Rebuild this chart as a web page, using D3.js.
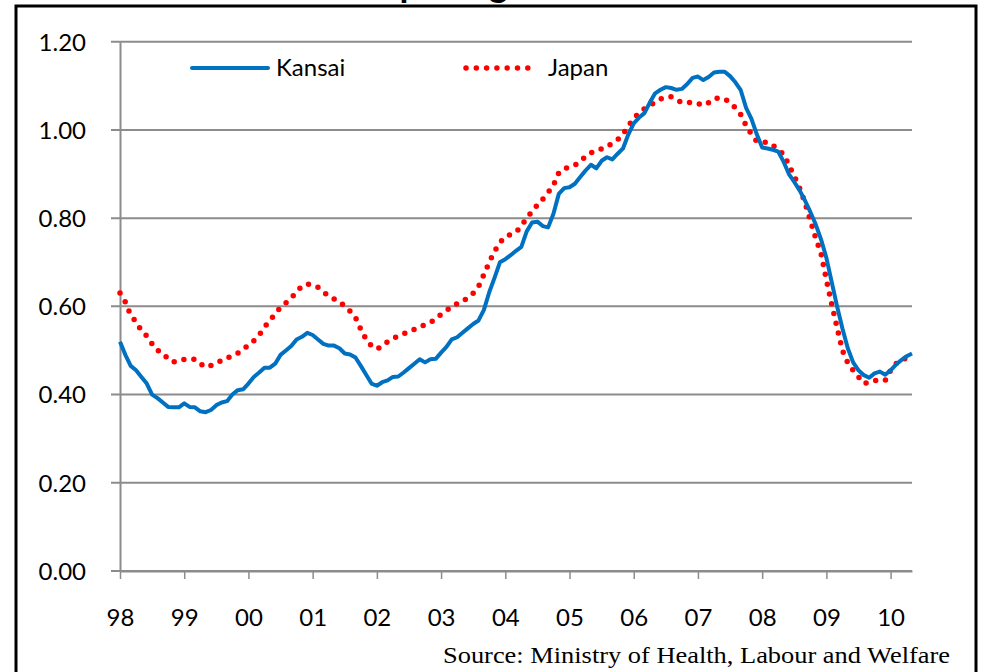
<!DOCTYPE html>
<meta charset="utf-8" />
<html>
<head>
<title>Kansai vs Japan</title>
<script src="https://cdn.jsdelivr.net/npm/d3@7/dist/d3.min.js"></script>
<style>
  body { margin: 0; background: #fff; }
  text { font-family: Lato, "Open Sans", sans-serif; fill: #000; }
</style>
</head>
<body>
<div id="viz"></div>
<script>

// monthly ratio, Jan 1998 .. May 2010
var kansai = [
  0.52, 0.49, 0.465, 0.455, 0.44, 0.425, 0.40, 0.392, 0.382, 0.372, 0.371, 0.371,
  0.38, 0.372, 0.371, 0.362, 0.36, 0.365, 0.376, 0.382, 0.385, 0.40, 0.41, 0.412,
  0.425, 0.44, 0.45, 0.461, 0.461, 0.47, 0.49, 0.50, 0.51, 0.525, 0.531, 0.54,
  0.535, 0.525, 0.515, 0.511, 0.511, 0.505, 0.493, 0.491, 0.484, 0.465, 0.445, 0.425,
  0.42, 0.428, 0.432, 0.44, 0.441, 0.45, 0.46, 0.47, 0.48, 0.473, 0.48, 0.481,
  0.495, 0.508, 0.525, 0.53, 0.54, 0.55, 0.56, 0.568, 0.592, 0.632, 0.665, 0.70,
  0.707, 0.716, 0.726, 0.735, 0.77, 0.79, 0.792, 0.782, 0.779, 0.81, 0.855, 0.868,
  0.87, 0.878, 0.893, 0.908, 0.921, 0.913, 0.93, 0.938, 0.933, 0.946, 0.958, 0.99,
  1.015, 1.028, 1.038, 1.062, 1.083, 1.091, 1.097, 1.095, 1.091, 1.093, 1.104, 1.118,
  1.121, 1.113, 1.12, 1.13, 1.132, 1.132, 1.122, 1.108, 1.09, 1.05, 1.025, 0.99,
  0.96, 0.958, 0.955, 0.951, 0.928, 0.90, 0.882, 0.863, 0.84, 0.814, 0.786, 0.752,
  0.71, 0.655, 0.60, 0.55, 0.505, 0.473, 0.455, 0.444, 0.438, 0.448, 0.452, 0.445,
  0.455, 0.468, 0.478, 0.487, 0.493
];

var japan = [
  0.63, 0.61, 0.58, 0.565, 0.545, 0.533, 0.515, 0.50, 0.495, 0.48, 0.474, 0.476,
  0.48, 0.48, 0.48, 0.47, 0.462, 0.466, 0.47, 0.478, 0.483, 0.488, 0.494, 0.503,
  0.512, 0.522, 0.535, 0.553, 0.568, 0.583, 0.598, 0.608, 0.618, 0.634, 0.645, 0.651,
  0.648, 0.643, 0.633, 0.623, 0.617, 0.611, 0.60, 0.589, 0.575, 0.548, 0.525, 0.51,
  0.503, 0.51, 0.52, 0.527, 0.533, 0.538, 0.542, 0.548, 0.554, 0.558, 0.563, 0.572,
  0.582, 0.59, 0.60, 0.606, 0.611, 0.62, 0.63, 0.645, 0.672, 0.70, 0.725, 0.745,
  0.758, 0.763, 0.768, 0.782, 0.80, 0.815, 0.83, 0.843, 0.858, 0.875, 0.903, 0.912,
  0.916, 0.92, 0.928, 0.94, 0.948, 0.953, 0.957, 0.962, 0.97, 0.978, 0.99, 1.01,
  1.025, 1.04, 1.048, 1.055, 1.063, 1.07, 1.074, 1.075, 1.068, 1.062, 1.062, 1.063,
  1.06, 1.056, 1.062, 1.071, 1.072, 1.07, 1.062, 1.05, 1.035, 1.01, 0.99, 0.974,
  0.972, 0.972, 0.965, 0.955, 0.945, 0.92, 0.895, 0.868, 0.835, 0.795, 0.755, 0.72,
  0.66, 0.605, 0.552, 0.50, 0.472, 0.455, 0.44, 0.425, 0.428, 0.432, 0.432, 0.432,
  0.455, 0.47, 0.48, 0.482, 0.483
];

var years = ["98", "99", "00", "01", "02", "03", "04", "05", "06", "07", "08", "09", "10"];
var yTicks = [0, 0.2, 0.4, 0.6, 0.8, 1.0, 1.2];

var width = 987,
    height = 672;

var svg = d3.select("#viz").append("svg")
    .attr("width", width)
    .attr("height", height);

var x = d3.scaleLinear().domain([0, kansai.length - 1]).range([120, 912]);
var y = d3.scaleLinear().domain([0, 1.2]).range([571, 41.7]);

// title (only its bottom edge peeks above the frame)
svg.append("text")
  .attr("x", 306)
  .attr("y", -3)
  .style("font-size", "36px")
  .style("font-weight", "bold")
  .text("Job Openings Ratio");

// gridlines
svg.append("g").selectAll("line")
  .data(yTicks)
  .enter().append("line")
  .attr("x1", 111)
  .attr("x2", 912)
  .attr("y1", function(d) { return y(d); })
  .attr("y2", function(d) { return y(d); })
  .style("stroke", "#8c8c8c")
  .style("stroke-width", 2);

// y axis
var yAxis = svg.append("g")
  .attr("transform", "translate(120,0)")
  .call(d3.axisLeft(y).tickValues(yTicks).tickSize(0).tickPadding(34)
    .tickFormat(d3.format(".2f")));
yAxis.select(".domain").style("stroke", "#8c8c8c").style("stroke-width", 2);
yAxis.selectAll("text").style("font-size", "24px").attr("dy", "0.35em");

// x axis
var xAxis = svg.append("g")
  .attr("transform", "translate(0," + y(0) + ")")
  .call(d3.axisBottom(x).tickValues(d3.range(0, 145, 12)).tickSizeInner(8).tickSizeOuter(0)
    .tickPadding(30).tickFormat(function(d, i) { return years[i]; }));
xAxis.select(".domain").style("stroke", "#8c8c8c").style("stroke-width", 2);
xAxis.selectAll(".tick line").style("stroke", "#8c8c8c").style("stroke-width", 1.5);
xAxis.selectAll("text").style("font-size", "24px");

var line = d3.line()
  .x(function(d, i) { return x(i); })
  .y(function(d) { return y(d); });

svg.append("path")
  .datum(japan)
  .attr("d", line)
  .style("fill", "none")
  .style("stroke", "#ff0000")
  .style("stroke-width", 5.5)
  .style("stroke-linecap", "round")
  .style("stroke-dasharray", "0 10");

svg.append("path")
  .datum(kansai)
  .attr("d", line)
  .style("fill", "none")
  .style("stroke", "#0070c0")
  .style("stroke-width", 4)
  .style("stroke-linejoin", "round");

// legend
var legend = svg.append("g");
legend.append("line")
  .attr("x1", 192).attr("x2", 268).attr("y1", 68).attr("y2", 68)
  .style("stroke", "#0070c0").style("stroke-width", 4).style("stroke-linecap", "round");
legend.append("text").attr("x", 276).attr("y", 76).style("font-size", "24px").text("Kansai");
legend.append("line")
  .attr("x1", 466).attr("x2", 538).attr("y1", 68).attr("y2", 68)
  .style("stroke", "#ff0000").style("stroke-width", 5.5).style("stroke-linecap", "round")
  .style("stroke-dasharray", "0 10.3");
legend.append("text").attr("x", 548).attr("y", 76).style("font-size", "24px").text("Japan");

// source
svg.append("text")
  .attr("x", 443)
  .attr("y", 663)
  .attr("textLength", 507)
  .attr("lengthAdjust", "spacingAndGlyphs")
  .style("font-family", "'Liberation Serif', 'Times New Roman', serif")
  .style("font-size", "23px")
  .text("Source: Ministry of Health, Labour and Welfare");

// frame
svg.append("rect")
  .attr("x", 16)
  .attr("y", 6)
  .attr("width", 960)
  .attr("height", 720)
  .style("fill", "none")
  .style("stroke", "#000")
  .style("stroke-width", 3);

</script>
</body>
</html>
